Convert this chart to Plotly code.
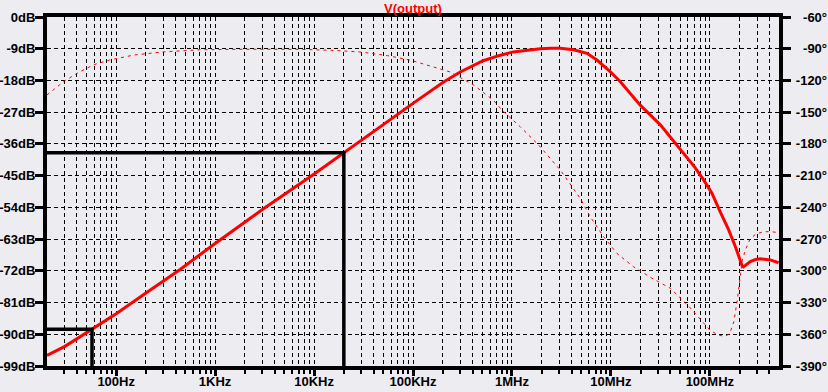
import plotly.graph_objects as go
import numpy as np

# Magnitude trace V(output) in dB
mag_freq = [20, 30, 40, 57, 100, 200, 443, 961, 3080, 9860, 20000, 43400, 100000, 202000,
            300000, 512000, 750000, 1.03e6, 1.5e6, 1.93e6, 2.5e6, 3.08e6, 4.2e6, 5.73e6, 7.23e6,
            9.83e6, 12.4e6, 15.7e6, 19.8e6, 31.6e6, 50e6, 70e6, 86.5e6, 105e6, 127e6, 155e6,
            181e6, 203e6, 212e6, 219e6, 235e6, 256e6, 290e6, 324e6, 408e6, 495e6]
mag_db = [-96.0, -93.5, -91.3, -88.6, -84.2, -78.3, -71.6, -64.6, -54.4, -44.7, -38.5, -31.6,
          -24.5, -18.5, -15.6, -12.4, -10.9, -9.9, -9.3, -9.0, -8.85, -8.9, -9.3, -10.3, -12.2,
          -15.5, -18.3, -21.6, -25.0, -30.6, -37.5, -42.5, -46.2, -50.0, -55.2, -60.4,
          -65.1, -69.2, -70.6, -70.9, -70.2, -69.4, -68.8, -68.6, -68.9, -69.7]

# Phase trace in degrees
ph_freq = [20, 30, 43, 60, 86, 150, 298, 705, 2000, 7200, 15000, 29000, 55000, 93600, 238000,
           405000, 646000, 792000, 1.21e6, 1.86e6, 3.08e6, 4.9e6, 6.18e6, 8.43e6, 11.5e6,
           16.9e6, 26e6, 39.8e6, 63.5e6, 100e6, 120e6, 134e6, 150e6, 161e6, 175e6, 190e6,
           203e6, 213e6, 229e6, 255e6, 289e6, 348e6, 420e6, 495e6]
ph_deg = [-133.7, -120.5, -111.7, -105.0, -100.7, -96.0, -93.0, -91.0, -90.5, -90.6, -91.5,
          -93.0, -96.5, -100.7, -112.0, -124.0, -138.5, -148.0, -163.7, -181.0, -204.7, -231.5,
          -248.8, -267.6, -283.5, -296.1, -307.0, -316.4, -335.1, -356.0, -360.5, -361.6,
          -361.0, -357.6, -348.0, -327.0, -305.0, -290.0, -280.0, -270.0, -265.5, -263.0,
          -263.0, -264.0]

# Cursors (frequency, dB)
cursor_freq = [57, 20000]
cursor_db = [-88.6, -38.5]

x_min, x_max = 20, 5e8
db_ticks = [0, -9, -18, -27, -36, -45, -54, -63, -72, -81, -90, -99]
deg_ticks = [-60, -90, -120, -150, -180, -210, -240, -270, -300, -330, -360, -390]
freq_ticks = [100, 1e3, 1e4, 1e5, 1e6, 1e7, 1e8]
freq_labels = ["100Hz", "1KHz", "10KHz", "100KHz", "1MHz", "10MHz", "100MHz"]

minor_vals = []
for d in [10, 100, 1e3, 1e4, 1e5, 1e6, 1e7, 1e8]:
    for k in range(2, 10):
        v = k * d
        if x_min < v < x_max:
            minor_vals.append(v)

def pad(s, n=5):
    return "\u2007" * (n - len(s.replace("°", ""))) + s

FONT = "Liberation Sans, Arial, sans-serif"
BG = "#ECECF1"
GRID = "4px,3px"
TF = dict(family=FONT, size=13, color="black", weight="bold")

fig = go.Figure()

fig.add_trace(go.Scatter(x=ph_freq, y=ph_deg, yaxis="y2", mode="lines",
                         line=dict(color="#FF0000", width=1, dash="3px,4px"),
                         hoverinfo="skip"))
fig.add_trace(go.Scatter(x=mag_freq, y=mag_db, mode="lines",
                         line=dict(color="#FF0000", width=3),
                         hoverinfo="skip"))
for f, db in zip(cursor_freq, cursor_db):
    fig.add_trace(go.Scatter(x=[x_min, f, f], y=[db, db, -99], mode="lines",
                             line=dict(color="black", width=3.5), hoverinfo="skip"))

fig.update_layout(
    width=828, height=392,
    margin=dict(l=47, r=49, t=17, b=26, autoexpand=False),
    paper_bgcolor=BG, plot_bgcolor=BG,
    showlegend=False,
    title=dict(text="V(output)", x=0.5, xref="paper", xanchor="center",
               y=1 - 8 / 392, yref="container", yanchor="middle", automargin=False,
               font=dict(family=FONT, size=13, color="#FF0000", weight="bold")),
    xaxis=dict(type="log", range=[np.log10(x_min), np.log10(x_max)],
               tickvals=freq_ticks, ticktext=freq_labels, tickfont=TF, automargin=False,
               ticks="outside", ticklen=6, tickwidth=3, tickcolor="black",
               ticklabelstandoff=-6,
               showline=True, linecolor="black", linewidth=4, mirror=True,
               showgrid=True, gridcolor="black", gridwidth=1, griddash=GRID,
               minor=dict(tickvals=minor_vals, ticks="outside", ticklen=4, tickwidth=2,
                          tickcolor="black", showgrid=True, gridcolor="black",
                          gridwidth=1, griddash=GRID),
               zeroline=False, fixedrange=True),
    yaxis=dict(range=[-99, 0], tickvals=db_ticks, ticktext=[f"{v}dB" for v in db_ticks],
               tickfont=TF, automargin=False,
               ticks="outside", ticklen=8, tickwidth=3, tickcolor="black",
               ticklabelstandoff=-3,
               showline=True, linecolor="black", linewidth=4,
               showgrid=True, gridcolor="black", gridwidth=1, griddash=GRID,
               zeroline=False, fixedrange=True),
    yaxis2=dict(range=[-390, -60], overlaying="y", side="right",
                tickvals=deg_ticks, ticktext=[pad(f"{v}°") for v in deg_ticks],
                tickfont=TF, automargin=False,
                ticks="outside", ticklen=8, tickwidth=3, tickcolor="black",
                ticklabelstandoff=-5,
                showline=True, linecolor="black", linewidth=4,
                showgrid=False, zeroline=False, fixedrange=True),
)

fig.write_html("out.html", config={"displayModeBar": False},
               post_script="document.body.style.margin='0';document.body.style.background='" + BG + "';")
